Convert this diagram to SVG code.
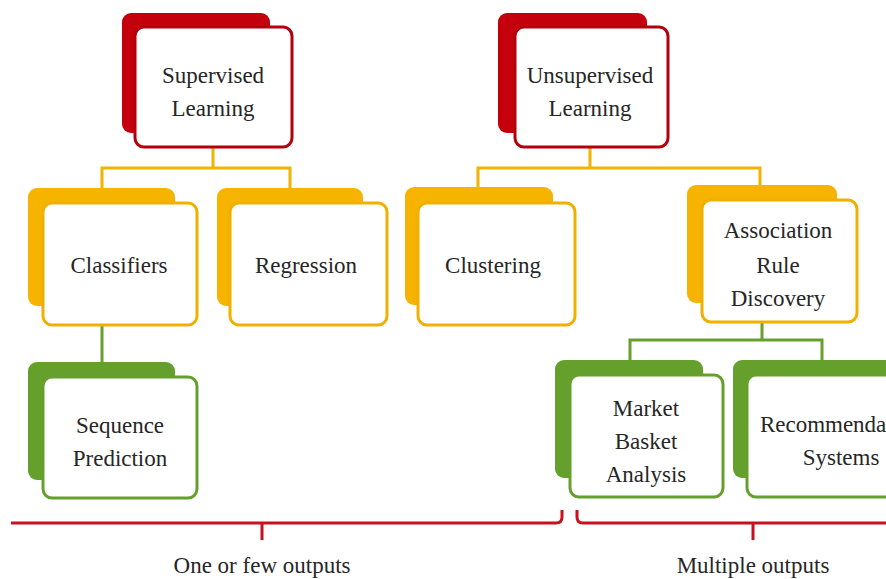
<svg xmlns="http://www.w3.org/2000/svg" width="886" height="579" viewBox="0 0 886 579">
  <style>
    .lbl { font-family: "Liberation Serif", "Times New Roman", serif; font-size: 23px; fill: #262626; text-anchor: middle; }
    .back-red { fill: #c4000c; }
    .front-red { fill: #ffffff; stroke: #b4000c; stroke-width: 3; }
    .back-yel { fill: #f6b400; }
    .front-yel { fill: #ffffff; stroke: #f0b000; stroke-width: 3; }
    .back-grn { fill: #66a02c; }
    .front-grn { fill: #ffffff; stroke: #66a02c; stroke-width: 3; }
    .c-yel { fill: none; stroke: #f2b300; stroke-width: 3; }
    .c-grn { fill: none; stroke: #66a02c; stroke-width: 3; }
    .c-red { fill: none; stroke: #c8101e; stroke-width: 3; }
  </style>
  <rect width="886" height="579" fill="#ffffff"/>

  <!-- connectors -->
  <g id="connectors">
    <path class="c-yel" d="M213 147 V168 M102 188 V168 H290 V188"/>
    <path class="c-yel" d="M590 147 V168 M478 187 V168 H760 V185"/>
    <path class="c-grn" d="M102 325 V362"/>
    <path class="c-grn" d="M762 322 V340 M630 360 V340 H822 V360"/>
    <!-- output brackets -->
    <path class="c-red" d="M11 523 H556 Q562 523 562 517 V510"/>
    <path class="c-red" d="M262 523 V540"/>
    <path class="c-red" d="M577 510 V517 Q577 523 583 523 H886"/>
    <path class="c-red" d="M753 523 V540"/>
  </g>

  <g id="supervised">
    <rect class="back-red" x="122" y="13" width="148" height="120" rx="9"/>
    <rect class="front-red" x="135" y="27" width="157" height="120" rx="9"/>
    <text class="lbl" x="213" y="83">Supervised</text>
    <text class="lbl" x="213" y="116">Learning</text>
  </g>

  <g id="unsupervised">
    <rect class="back-red" x="498" y="13" width="149" height="120" rx="9"/>
    <rect class="front-red" x="515" y="27" width="153" height="120" rx="9"/>
    <text class="lbl" x="590" y="83">Unsupervised</text>
    <text class="lbl" x="590" y="116">Learning</text>
  </g>

  <g id="classifiers">
    <rect class="back-yel" x="28" y="188" width="147" height="118" rx="9"/>
    <rect class="front-yel" x="43" y="203" width="154" height="122" rx="9"/>
    <text class="lbl" x="119" y="273">Classifiers</text>
  </g>

  <g id="regression">
    <rect class="back-yel" x="217" y="188" width="146" height="118" rx="9"/>
    <rect class="front-yel" x="230" y="203" width="157" height="122" rx="9"/>
    <text class="lbl" x="306" y="273">Regression</text>
  </g>

  <g id="clustering">
    <rect class="back-yel" x="405" y="187" width="148" height="118" rx="9"/>
    <rect class="front-yel" x="418" y="203" width="157" height="122" rx="9"/>
    <text class="lbl" x="493" y="273">Clustering</text>
  </g>

  <g id="association">
    <rect class="back-yel" x="687" y="185" width="150" height="118" rx="9"/>
    <rect class="front-yel" x="702" y="200" width="155" height="122" rx="9"/>
    <text class="lbl" x="778" y="238">Association</text>
    <text class="lbl" x="778" y="273">Rule</text>
    <text class="lbl" x="778" y="306">Discovery</text>
  </g>

  <g id="sequence">
    <rect class="back-grn" x="28" y="362" width="147" height="118" rx="9"/>
    <rect class="front-grn" x="43" y="377" width="154" height="121" rx="9"/>
    <text class="lbl" x="120" y="433">Sequence</text>
    <text class="lbl" x="120" y="466">Prediction</text>
  </g>

  <g id="market">
    <rect class="back-grn" x="555" y="360" width="148" height="118" rx="9"/>
    <rect class="front-grn" x="570" y="375" width="153" height="122" rx="9"/>
    <text class="lbl" x="646" y="416">Market</text>
    <text class="lbl" x="646" y="449">Basket</text>
    <text class="lbl" x="646" y="482">Analysis</text>
  </g>

  <!-- this node runs past the right edge of the canvas -->
  <g id="recommendation">
    <rect class="back-grn" x="733" y="360" width="170" height="118" rx="9"/>
    <rect class="front-grn" x="747" y="375" width="170" height="122" rx="9"/>
    <text class="lbl" x="841" y="432">Recommendation</text>
    <text class="lbl" x="841" y="465">Systems</text>
  </g>

  <g id="output-labels">
    <text class="lbl" x="262" y="573">One or few outputs</text>
    <text class="lbl" x="753" y="573">Multiple outputs</text>
  </g>
</svg>
